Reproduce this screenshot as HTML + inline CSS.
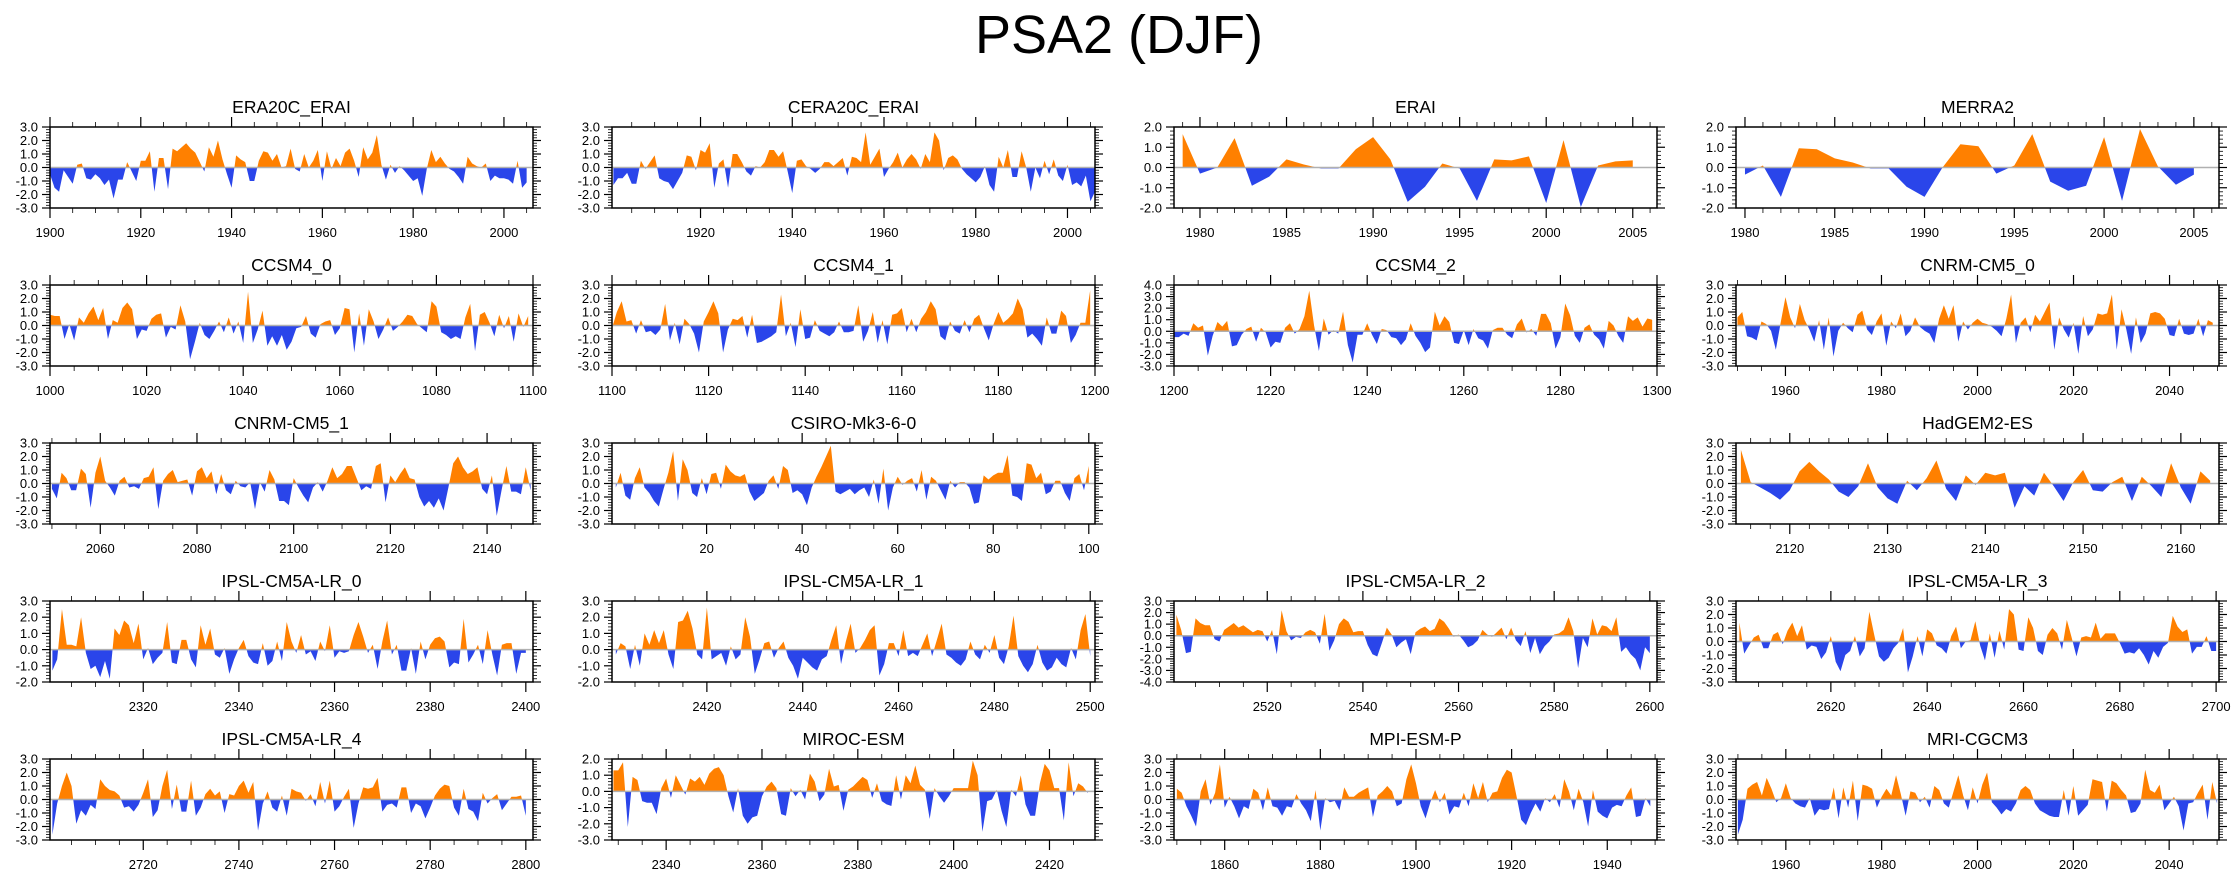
<!DOCTYPE html>
<html><head><meta charset="utf-8"><title>PSA2 (DJF)</title>
<style>
html,body{margin:0;padding:0;background:#fff;}
svg{display:block;font-family:"Liberation Sans",Arial,sans-serif;}
</style></head>
<body>
<svg id="chart" width="2238" height="877" viewBox="0 0 2238 877">
<text x="1119" y="53" text-anchor="middle" font-size="54" fill="#000">PSA2 (DJF)</text>
</svg>
<script>
const era20cVals=[-0.5,-1.5,-1.8,-0.2,-0.7,-1.2,0.2,0.3,-0.8,-0.9,-0.5,-0.8,-1.3,-0.9,-2.3,-0.9,-0.9,0.4,-0.3,-1.0,0.5,0.5,1.2,-1.8,0.7,0.7,-1.6,1.4,1.2,1.5,1.8,1.4,1.1,0.4,-0.3,1.5,0.8,2.0,0.6,-0.5,-1.5,0.9,0.6,0.4,-1.0,-1.0,0.5,1.2,1.1,0.5,1.0,0,0.1,1.4,-0.1,-0.3,1.0,0.0,0.5,1.3,-1.0,1.2,-0.1,0.7,0.1,1.1,1.4,0.5,-0.7,1.5,0.6,1.1,2.4,0.2,-0.9,0.2,-0.4,0.1,-0.2,-0.6,-1.0,-0.8,-2.1,-0.1,1.3,0.4,0.8,0.3,-0.1,-0.3,-0.7,-1.2,0.8,0.3,0.1,0.0,0.3,-1.0,-0.6,-0.8,-0.8,-0.9,-1.2,0.5,-1.5,-1.1];
const cera20cVals=[-1.3,-0.8,-0.8,-0.4,-1.2,-1.2,0.5,-0.1,0.4,0.9,-0.8,-1.0,-1.1,-1.6,-1.0,-0.4,0.9,0.8,-0.2,1.3,1.1,1.8,-1.5,0.3,0.6,-1.5,1.0,1.0,0.4,-0.3,-0.6,0.1,0.0,0.4,1.3,1.3,0.8,1.2,-0.3,-1.9,0.5,0.6,0.1,-0.1,-0.4,-0.1,0.4,0.4,0.1,0.4,0.7,-0.6,0.8,0.7,0.4,2.6,0.2,0.8,1.4,-0.7,-0.1,0.4,1.1,0.0,0.6,1.0,0.6,-0.1,1.0,0.4,2.6,2.0,-0.2,0.7,0.9,0.6,-0.1,-0.5,-0.8,-1.1,-0.7,0.1,-1.3,-1.8,0.8,0.0,1.3,-0.7,-0.7,1.2,0.0,-1.8,0.0,-0.8,0.5,-0.5,0.6,-0.6,-1.0,0.2,-1.3,-1.1,-1.4,-0.6,-2.5,-1.8];
const eraiVals=[1.65,-0.3,0.0,1.45,-0.9,-0.45,0.4,0.15,-0.05,-0.05,0.9,1.5,0.4,-1.7,-0.95,0.2,-0.05,-1.65,0.4,0.35,0.55,-1.75,1.35,-1.95,0.1,0.3,0.35];
const merra2Vals=[-0.35,0.1,-1.45,0.95,0.9,0.45,0.25,-0.05,-0.05,-0.95,-1.45,0.0,1.15,1.05,-0.3,0.1,1.65,-0.7,-1.15,-0.9,1.5,-1.65,1.9,0.05,-0.85,-0.35];
const ccsm40Vals=[0.8,0.7,0.7,-1.0,0.1,-1.1,0.6,0.2,0.9,1.4,0.4,1.3,-1.0,0.4,0.2,1.3,1.7,1.2,-1.0,-0.3,-0.4,0.5,0.8,0.9,-0.9,-0.1,-0.3,1.5,0.3,-2.5,-1.2,0.2,-0.7,-1.0,-0.4,0.3,-0.5,0.6,-0.6,0.3,-1.3,2.5,-1.3,-0.3,1.1,-1.5,-0.8,-1.5,-0.7,-1.8,-1.2,-0.2,-0.1,0.7,-0.6,-0.9,0.1,0.3,0.4,-0.7,-0.2,1.3,1.2,-2.0,0.9,-1.5,1.2,0.3,-1.0,-0.3,0.6,-0.4,-0.1,0.3,0.8,0.7,0.1,-0.2,-0.5,1.8,1.4,-0.5,-0.7,-1.0,-0.8,-1.0,0.6,1.6,-1.9,0.8,1.0,0.2,-0.8,0.8,-0.2,0.7,-1.2,0.9,-0.1,0.7];
const ccsm41Vals=[-0.2,1.0,1.8,0.3,0.4,-0.6,0.4,-0.5,-0.4,-0.7,-0.3,1.6,-1.1,0.2,-1.4,0.5,0.1,-0.6,-2.0,0.3,1.0,1.8,0.9,-2.0,-0.3,0.5,0.4,0.7,-0.9,0.8,-1.3,-1.2,-1.0,-0.8,-0.5,2.3,-0.8,0.2,-1.6,1.2,-1.0,-0.9,0.4,-0.4,-0.6,-0.8,-0.5,0.3,-0.5,-0.5,-0.4,1.5,-1.2,-0.4,1.0,-1.3,0.4,-1.4,0.8,0.9,1.3,-0.5,0.5,-0.5,0.5,1.0,1.8,1.2,-0.8,-1.1,0.3,-0.4,-0.6,0.4,-0.5,0.5,0.8,-0.2,-1.1,0.1,1.0,0.2,0.5,0.9,2.0,1.2,-0.9,-0.6,-1.0,-1.5,0.6,-0.6,-0.6,1.1,0.7,-1.3,-0.7,0.2,0.2,2.6];
const ccsm42Vals=[-0.5,-0.5,-0.2,-0.4,0.7,0.3,0.5,-2.1,-0.4,0.8,0.4,0.9,-1.3,-1.2,-0.3,0.2,0.4,-0.9,0.3,-0.1,-1.4,-0.9,-1.0,0.3,0.7,-0.2,0.2,1.3,3.5,0.5,-1.7,1.1,-0.3,0.1,-0.2,1.7,-1.2,-2.7,-0.3,-0.3,0.7,-0.3,-1.1,0.2,0.1,-0.5,-0.6,-1.2,-0.7,0.7,-0.4,-1.0,-1.8,-1.4,1.7,0.5,1.3,0.8,-1.0,-1.1,0.1,-1.2,0.2,-0.6,-0.8,-1.5,0.1,0.3,0.3,-0.3,-0.6,0.6,1.1,-0.1,0.2,-0.4,1.5,1.5,0.7,-1.5,-0.5,2.4,1.4,-0.4,-1.0,0.3,0.6,-0.3,-0.7,-1.5,0.9,0.5,-0.4,-1.0,1.3,0.9,1.2,0.4,1.1,1.0];
const cnrm0Vals=[0.6,1.0,-0.8,-0.9,-1.1,0.3,0.1,-0.4,-1.8,0.2,2.1,0.6,-0.2,1.6,0.4,-0.3,-1.2,0.4,-1.8,0.6,-2.3,-0.4,0.2,-0.2,-0.5,0.8,1.1,-0.3,-0.7,0.3,0.9,-1.5,0.3,-0.2,0.9,-0.8,-0.4,0.6,-0.1,-0.4,-0.6,-1.3,0.5,1.5,0.5,1.5,-1.2,0.3,-0.3,0.2,0.5,0.2,0.1,-0.1,-0.4,-0.8,0.5,2.3,-1.3,0.2,0.6,-0.5,0.8,0.3,1.0,1.7,-1.8,0.6,-0.3,-0.9,0.2,-2.1,0.7,-0.8,-0.3,0.9,0.8,0.9,2.3,-1.8,1.2,-0.3,-2.1,0.6,-1.3,-0.6,0.9,1.0,0.9,0.5,-0.7,-0.8,0.5,-0.6,-0.7,-0.6,0.5,-0.8,0.4,0.2];
const cnrm1Vals=[-0.4,-1.1,0.8,0.4,-0.5,-0.5,1.1,0.7,-1.8,0.8,2.0,0.2,-0.3,-0.9,0.2,0.5,-0.3,-0.2,-0.4,0.4,0.5,1.2,-1.9,0.2,0.7,1.0,0.1,0.2,0.3,-0.9,0.9,1.2,0.4,0.9,-0.8,0.7,-0.5,-0.8,0.2,-0.2,-0.3,0.1,-1.9,0.1,-0.6,1.0,0.3,-1.3,-1.3,-1.6,0.4,-0.3,-0.9,-1.4,-0.3,0.1,-0.6,0.2,1.2,0.4,0.7,1.3,1.3,0.4,-0.5,-0.2,-0.4,1.3,1.5,-1.4,0.6,0.1,0.7,1.2,0.4,0.3,-1.0,-1.7,-1.3,-1.8,-1.1,-2.0,-0.3,1.5,2.0,1.2,0.7,0.9,1.2,-0.4,-0.8,0.6,-2.4,-0.5,1.3,-0.6,-0.6,-0.8,1.2,-0.5];
const csiroVals=[-0.3,0.8,-0.9,-1.2,0.4,1.2,-0.3,-0.7,-1.3,-1.7,-0.4,0.8,2.4,-1.3,1.8,1.0,-0.7,-1.0,0.4,-0.8,0.7,0.8,-0.4,1.4,0.9,0.6,0.5,0.7,-0.6,-1.3,-1.0,-0.7,0.2,0.6,-0.4,1.3,1.0,-0.7,-0.5,-0.8,-1.6,-0.3,0.5,1.2,2.0,2.8,-0.6,-0.8,-0.6,-0.4,-0.8,-0.5,-0.3,-1.0,0.3,-1.5,1.1,-2.0,-0.3,0.5,-0.1,0.2,0.4,-0.6,1.0,-1.2,0.5,0.2,-0.5,-1.2,0.2,-0.3,0.1,0.1,-0.3,-1.5,-1.4,0.6,0.3,0.6,0.8,0.8,2.1,-0.9,-1.0,-1.3,1.5,1.4,0.4,0.8,-0.8,-0.6,0.2,0.2,-0.7,-1.3,0.4,0.7,-0.5,1.3];
const hadgemVals=[2.5,0.1,-0.3,-0.7,-1.2,-0.5,0.9,1.6,0.9,0.3,-0.6,-1.0,-0.2,1.5,-0.3,-1.1,-1.5,0.2,-0.5,0.4,1.7,-0.4,-1.3,0.6,-0.1,0.8,0.6,0.8,-1.8,-0.2,-0.9,0.8,-0.2,-1.3,0.1,1.0,-0.5,-0.6,0.1,0.5,-1.3,0.5,-0.2,-1.0,1.5,-0.3,-1.5,0.9,0.2];
const ipsl0Vals=[-1.3,-0.6,2.5,0.3,0.3,0.2,2.0,-0.2,-1.2,-1.0,-1.7,-0.7,-1.8,1.3,0.9,1.8,1.5,0.4,1.6,-0.6,0.1,-0.9,-0.5,-0.2,1.7,-0.8,-0.9,0.6,0.6,-0.6,-1.1,1.5,0.3,1.3,-0.3,-0.5,0.1,-1.5,-0.6,0.1,0.6,-0.4,-0.8,-0.9,0.4,-1.0,-0.7,0.5,-0.7,1.7,0.5,-0.2,0.9,-0.3,-0.1,-0.7,0.5,-0.1,1.5,-0.5,-0.1,-0.2,-0.1,0.9,1.7,0.8,-0.2,0.3,-1.2,0.5,1.8,-0.3,0.3,-1.3,-1.3,0.1,-1.5,0.5,-0.6,0.3,0.7,0.8,0.5,-1.1,-0.8,-0.9,1.9,-0.8,-0.3,0.3,-0.9,1.2,-0.3,-1.6,0.3,0.4,0.4,-1.5,-0.2,-0.2];
const ipsl1Vals=[-0.3,0.4,0.2,-1.2,0.3,-1.0,1.0,0.3,1.2,0.4,1.2,-0.3,-1.2,1.7,1.8,2.4,1.3,-0.3,-0.6,2.6,-0.6,-0.4,-0.2,-1.0,0.2,-0.6,-0.3,2.0,0.8,-1.5,-0.6,0.4,0.5,-0.5,0.1,0.5,-0.5,-1.0,-1.8,-0.5,-0.8,-1.1,-1.3,-0.6,-0.4,0.6,1.5,-0.9,0.5,1.6,-0.2,0.1,0.6,1.2,1.5,-1.6,-0.9,0.4,0.4,-0.4,1.2,-0.4,-0.2,-0.4,0.3,1.0,-0.4,0.6,1.6,-0.3,-0.5,-0.8,-1.0,-0.6,0.5,-0.3,-0.6,0.3,-0.2,0.9,-0.5,-0.9,0.2,2.1,-0.4,-1.0,-1.4,-0.9,0.3,-0.8,-1.3,-1.1,-0.5,-0.9,-1.1,0.1,-0.6,1.2,2.2,-0.4];
const ipsl2Vals=[1.8,0.5,-1.5,-1.4,1.5,1.1,0.9,0.9,-0.3,-0.5,0.5,0.8,1.1,0.7,0.9,0.6,0.3,0.5,0.4,-0.5,0.5,-1.6,2.2,0.4,-0.4,-0.1,-0.2,0.3,0.5,0.3,-0.7,1.9,-1.3,-0.4,1.0,1.5,1.2,0.3,0.4,0.4,-0.8,-1.6,-1.8,-0.6,0.7,0.1,-1.0,-0.6,-0.3,-1.6,0.3,0.6,0.8,0.4,0.6,1.5,1.2,0.6,-0.1,0.1,-0.4,-1.0,-0.8,-0.4,0.5,0.1,-0.1,0.3,0.7,-0.3,0.7,-0.4,-0.9,0.4,-1.5,-0.2,-1.6,-0.9,-0.5,0.1,0.2,0.5,1.6,0.4,-2.8,-0.2,-1.0,1.5,0.1,0.9,0.8,0.4,1.6,-1.4,-1.0,-1.6,-2.0,-3.0,-1.0,-1.5];
const ipsl3Vals=[1.4,-0.9,-0.3,0.3,0.5,-0.5,-0.5,0.5,0.7,-0.2,0.8,1.4,0.4,1.2,-0.6,-0.3,-0.4,-1.3,-0.8,0.4,-1.5,-2.2,-1.0,-0.7,0.4,-1.1,-0.5,2.2,0.5,-1.1,-1.5,-1.2,-0.5,-0.1,1.0,-2.3,-1.1,0.4,-1.1,0.9,0.6,-0.3,-0.5,-0.9,0.4,1.1,-0.5,0.0,0.1,1.5,-0.3,-1.4,0.6,-1.2,0.8,-0.6,2.4,2.0,-0.6,-0.7,1.8,1.0,-0.7,-1.0,0.5,1.0,0.6,-0.6,1.6,0.3,-1.1,0.3,0.4,0.3,1.4,0.2,0.6,0.6,0.6,-0.1,-0.9,-0.8,-0.9,-0.5,-1.0,-1.7,-0.7,-1.2,-0.4,-0.1,1.9,1.1,0.7,0.9,-0.9,-0.4,-0.4,0.4,-0.7,-0.7];
const ipsl4Vals=[-2.6,-0.3,1.0,2.0,1.0,-1.8,-0.8,-1.2,-0.4,-0.7,1.5,1.0,0.7,0.6,0.3,-0.6,-0.5,-0.9,-0.4,0.5,1.5,-1.3,-0.8,1.0,2.2,-0.7,1.1,-0.9,-0.9,1.4,-1.2,-0.6,0.4,0.8,0.3,0.6,-1.0,0.4,0.3,1.0,1.4,0.5,1.3,-2.3,-0.3,0.6,-0.6,-0.9,0.3,-1.2,0.8,0.6,0.5,-0.1,0.4,-0.5,1.3,-0.3,1.4,-0.9,-0.5,0.2,0.8,-2.1,-0.3,0.9,0.8,0.9,1.6,-0.9,-0.4,-0.3,-0.6,0.9,0.9,-1.0,-0.3,-0.5,-1.4,-0.6,0.3,0.8,1.1,1.0,-0.6,-1.2,0.8,-0.7,-0.9,-1.6,0.5,-0.3,0.1,0.4,-0.8,-0.3,0.2,0.2,0.3,-1.2];
const mirocVals=[1.3,1.3,1.8,-2.2,0.9,0.7,-0.6,-0.7,-0.7,-1.4,0.2,0.8,-0.4,1.0,0.4,-0.2,0.8,0.6,0.9,0.4,1.1,1.4,1.5,1.0,-0.3,-1.3,0.2,-1.5,-2.0,-1.6,-1.5,-0.3,0.3,0.6,0.2,-1.4,-1.5,0.2,-0.3,0.1,-0.5,1.1,0.6,-0.6,-0.2,1.4,0.3,0.4,-1.2,0.1,0.3,0.6,0.9,0.7,-0.4,0.5,-0.6,-0.8,-0.9,1.0,-0.5,1.0,0.5,1.6,0.4,0.1,-1.7,0.2,-0.3,-0.7,-0.3,0.2,0.2,0.2,0.2,1.9,1.0,-2.5,-0.6,-0.5,0.1,-1.2,-2.2,0.1,-0.3,1.0,-0.8,-1.5,-1.5,0.5,1.7,1.3,0.2,0.2,-1.8,1.8,-0.3,0.5,0.3,-0.1];
const mpiVals=[0.8,0.5,-0.5,-1.2,-2.0,0.6,1.5,-0.4,0.5,2.6,-0.6,0.2,-0.5,-1.4,-0.5,-0.7,0.8,0.5,-0.8,0.9,-0.5,-0.6,-1.2,-0.5,-0.6,0.4,-0.3,-0.8,-1.6,0.7,-2.3,0.1,-0.2,-0.1,-0.8,0.9,0.2,0.2,0.5,0.7,0.9,-1.3,0.3,0.6,1.0,0.6,-0.5,-0.3,1.5,2.6,1.2,-0.5,-1.4,-0.2,0.7,-0.2,0.5,-1.1,-0.5,-0.6,0.5,-0.5,1.2,0.1,1.3,-0.2,0.5,0.6,1.6,2.2,2.0,0.3,-1.5,-1.9,-1.0,-0.3,-0.9,0.1,-0.2,0.4,-0.6,1.5,0.6,-0.8,0.8,-0.2,-2.0,0.7,-0.9,-1.2,-1.4,-0.6,-0.4,-0.5,0.3,0.9,-1.3,-1.2,0.1,-0.5];
const mriVals=[-2.6,-1.5,0.8,1.1,1.3,0.3,1.6,0.8,-0.2,0.1,1.2,0.1,-0.3,-0.5,-0.6,0.1,-1.2,-0.7,-0.8,-0.7,0.9,-1.4,0.9,-0.6,1.4,-1.6,1.1,1.0,0.8,-0.6,0.2,0.8,0.3,1.8,0.4,-1.2,0.6,0.5,-0.2,0.2,-0.6,1.0,0.7,-0.3,-0.6,0.6,1.8,0.3,-0.8,0.9,-0.3,1.1,2.0,-0.2,-0.6,-1.1,-0.7,-0.9,-0.3,0.7,1.0,0.7,-0.3,-0.8,-1.0,-1.2,-1.3,-1.3,0.7,-1.2,1.0,-1.2,-0.8,-0.4,1.5,1.4,1.3,-0.9,1.4,1.2,0.7,0.3,-1.0,-0.9,-0.3,2.2,0.7,0.5,1.1,-0.8,-0.3,0.2,-0.5,-2.3,-0.3,-0.2,0.5,1.1,-1.5,1.3,-0.3];

const panelNames=["ERA20C_ERAI","CERA20C_ERAI","ERAI","MERRA2","CCSM4_0","CCSM4_1","CCSM4_2","CNRM-CM5_0","CNRM-CM5_1","CSIRO-Mk3-6-0","HadGEM2-ES","IPSL-CM5A-LR_0","IPSL-CM5A-LR_1","IPSL-CM5A-LR_2","IPSL-CM5A-LR_3","IPSL-CM5A-LR_4","MIROC-ESM","MPI-ESM-P","MRI-CGCM3"];
const panelSeries=[era20cVals,cera20cVals,eraiVals,merra2Vals,ccsm40Vals,ccsm41Vals,ccsm42Vals,cnrm0Vals,cnrm1Vals,csiroVals,hadgemVals,ipsl0Vals,ipsl1Vals,ipsl2Vals,ipsl3Vals,ipsl4Vals,mirocVals,mpiVals,mriVals];
const startYears=[1900,1901,1979,1980,1000,1100,1200,1950,2050,1,2115,2301,2401,2501,2601,2701,2329,1850,1950];
const xMins=[1900,1900.7,1978.5,1979.5,1000,1100,1200,1949.7,2049.6,0.2,2114.5,2300.5,2400.2,2500.5,2600.3,2700.5,2328.7,1849.4,1949.6];
const xMaxs=[2006.4,2006,2006.4,2006.4,1100,1200,1300,2050.3,2149.5,101.3,2163.9,2401.5,2501,2601.5,2700.6,2801.5,2429.5,1950.4,2050.4];
const yMins=[-3,-3,-2,-2,-3,-3,-3,-3,-3,-3,-3,-2,-2,-4,-3,-3,-3,-3,-3];
const yMaxs=[3,3,2,2,3,3,4,3,3,3,3,3,3,3,3,3,2,3,3];
const xMajor=[20,20,5,5,20,20,20,20,20,20,10,20,20,20,20,20,20,20,20];
const xMinor=[5,5,1,1,5,5,5,5,5,5,2,5,5,5,5,5,5,5,5];
const panelSlots=[[0,0],[0,1],[0,2],[0,3],[1,0],[1,1],[1,2],[1,3],[2,0],[2,1],[2,3],[3,0],[3,1],[3,2],[3,3],[4,0],[4,1],[4,2],[4,3]];

const NS="http://www.w3.org/2000/svg";
const svg=document.getElementById('chart');
const rowTops=[127,285,443,601,759];
const BOXW=483, BOXH=81;
function mk(tag,attrs,parent){const e=document.createElementNS(NS,tag);for(const k in attrs)e.setAttribute(k,attrs[k]);(parent||svg).appendChild(e);return e;}

panelNames.forEach((name,p)=>{
  const [r,c]=panelSlots[p];
  const L=50+562*c, T=rowTops[r], R=L+BOXW, B=T+BOXH;
  const x0=xMins[p], x1=xMaxs[p], y0=yMins[p], y1=yMaxs[p];
  const xs=v=>L+(v-x0)/(x1-x0)*BOXW;
  const ys=v=>B-(v-y0)/(y1-y0)*BOXH;
  const g=mk('g',{});
  
  
  const title=mk('text',{x:(L+R)/2,y:T-14,'text-anchor':'middle','font-size':17.5,fill:'#000'},g);
  title.textContent=name;
  
  
  const zy=ys(0);
  const cu=mk('clipPath',{id:'cu'+p},g); mk('rect',{x:L,y:T,width:BOXW,height:zy-T},cu);
  const cd=mk('clipPath',{id:'cd'+p},g); mk('rect',{x:L,y:zy,width:BOXW,height:B-zy},cd);
  const vals=panelSeries[p], st=startYears[p];
  let d='M'+xs(st).toFixed(2)+','+zy.toFixed(2);
  vals.forEach((v,i)=>{d+=' L'+xs(st+i).toFixed(2)+','+ys(v).toFixed(2);});
  d+=' L'+xs(st+vals.length-1).toFixed(2)+','+zy.toFixed(2)+' Z';
  const pos=mk('path',{d:d,fill:'#ff8000','clip-path':'url(#cu'+p+')'},g);
  
  
  const neg=mk('path',{d:d,fill:'#2a45ea','clip-path':'url(#cd'+p+')'},g);
  
  
  const zl=mk('line',{x1:L,x2:R,y1:zy,y2:zy,stroke:'#b0b0b0','stroke-width':1.5},g);
  
  
  for(let k=Math.round(y0*5);k<=Math.round(y1*5);k++){
    const v=k/5, y=ys(v), major=(k%5===0);
    const len=major?8:4;
    mk('line',{x1:L-len,x2:L,y1:y,y2:y,stroke:'#000','stroke-width':major?1.2:0.8},g);
    mk('line',{x1:R,x2:R+len,y1:y,y2:y,stroke:'#000','stroke-width':major?1.2:0.8},g);
    if(major){
      const t=mk('text',{x:L-12,y:y+4.5,'text-anchor':'end','font-size':13,fill:'#000'},g);
      t.textContent=v.toFixed(1);
      
      
    }
  }
  const mn=xMinor[p], mj=xMajor[p];
  for(let v=Math.ceil(x0/mn)*mn; v<=x1+1e-9; v+=mn){
    const x=xs(v), major=(Math.round(v)%mj===0);
    const len=major?10:5;
    mk('line',{x1:x,x2:x,y1:T-len,y2:T,stroke:'#000','stroke-width':major?1.2:0.8},g);
    mk('line',{x1:x,x2:x,y1:B,y2:B+len,stroke:'#000','stroke-width':major?1.2:0.8},g);
    if(major){
      const t=mk('text',{x:x,y:B+29,'text-anchor':'middle','font-size':13,fill:'#000'},g);
      t.textContent=String(Math.round(v));
      
      
    }
  }
  const box=mk('rect',{x:L,y:T,width:BOXW,height:BOXH,fill:'none',stroke:'#000','stroke-width':1.5},g);
  
  
});
</script>
</body></html>
